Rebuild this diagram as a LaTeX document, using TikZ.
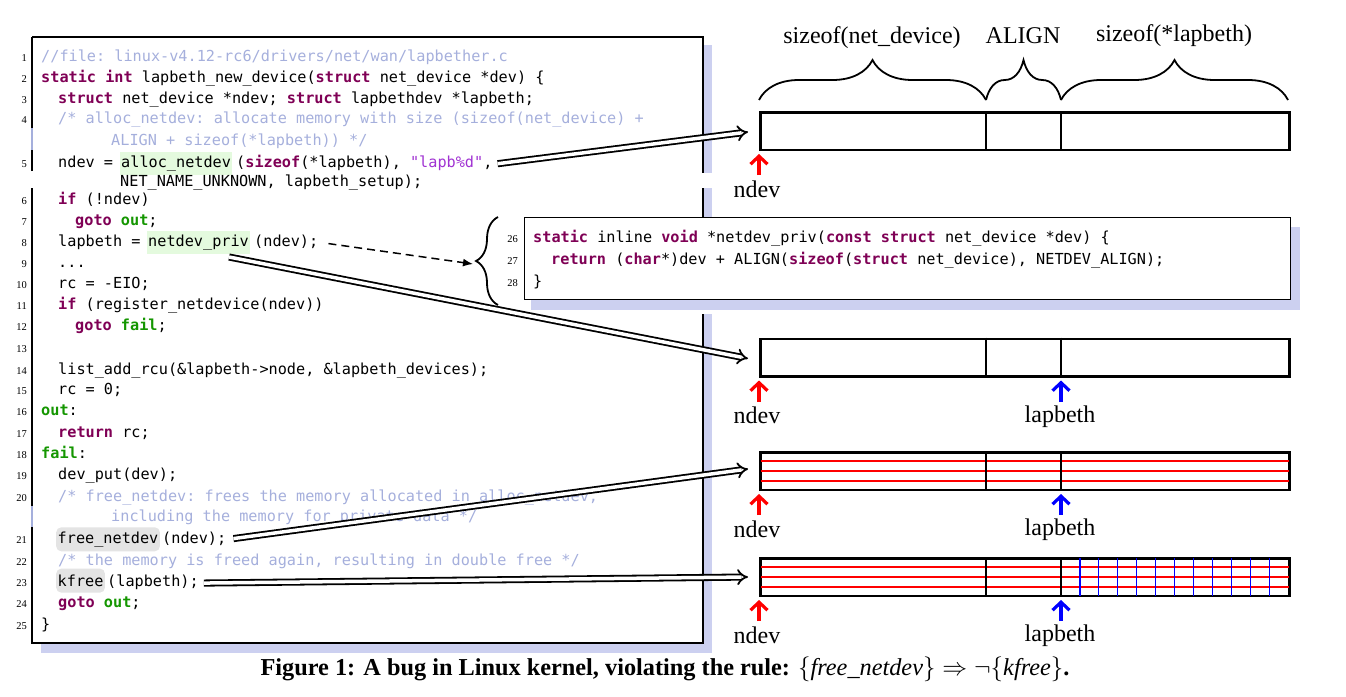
\documentclass[tikz,border=0pt]{standalone}
\usepackage{fontspec}
\setmainfont{Liberation Serif}
\setmonofont{DejaVu Sans Mono}
\usetikzlibrary{arrows.meta,decorations.pathreplacing,calc}
\definecolor{kwc}{RGB}{127,0,85}
\definecolor{lblc}{RGB}{20,150,0}
\definecolor{cmc}{RGB}{165,175,220}
\definecolor{strc}{RGB}{160,50,210}
\definecolor{hlgreen}{RGB}{228,250,222}
\definecolor{hlgray}{RGB}{228,228,228}
\definecolor{shadowc}{RGB}{204,208,240}
\newcommand{\kw}[1]{\textcolor{kwc}{\bfseries #1}}
\newcommand{\lb}[1]{\textcolor{lblc}{\bfseries #1}}
\newcommand{\cmt}[1]{\textcolor{cmc}{#1}}
\newcommand{\strg}[1]{\textcolor{strc}{#1}}
\newcommand{\codefont}{\fontsize{15.2}{18}\selectfont\ttfamily}
\begin{document}
\begin{tikzpicture}[x=1pt,y=-1pt,
  code/.style={font=\codefont, inner sep=0pt, anchor=mid west, yshift=-3pt},
  hlg/.style={code, fill=hlgreen, inner xsep=1pt, inner ysep=0pt, minimum height=23pt},
  hlr/.style={code, fill=hlgray, rounded corners=5pt, inner xsep=1.5pt, inner ysep=0pt, minimum height=24pt},
  lnum/.style={font=\fontsize{10.5}{12}\selectfont, inner sep=0pt, anchor=mid east, yshift=-3pt},
  bar/.style={draw, line width=2.5pt, inner sep=0pt, minimum width=529pt, minimum height=37.5pt, anchor=north west},
  lbl/.style={font=\fontsize{24}{28}\selectfont, inner sep=0pt, anchor=base},
  dbl/.style={double, double distance=3.5pt, line width=1.8pt, -{Implies[scale=1.4]}},
  redarr/.style={draw=red, line width=3.2pt, -{Straight Barb[length=8pt,width=17pt]}},
  bluearr/.style={draw=blue, line width=3.2pt, -{Straight Barb[length=8pt,width=17pt]}},
  brc/.style={decorate, line width=1.8pt}
]
\useasboundingbox (0,0) rectangle (1346,696);
% ---------- code box ----------
\fill[shadowc] (703,45) rectangle (712,653);
\fill[shadowc] (41,643) rectangle (712,653);
\fill[white] (703,173) rectangle (712,188);
\draw[line width=1.3pt] (32,37) -- (703,37) -- (703,173);
\draw[line width=1.3pt] (703,188) -- (703,643) -- (32,643) -- (32,527);
\draw[line width=1.3pt] (32,506) -- (32,188);
\draw[line width=1.3pt] (32,171) -- (32,150);
\draw[line width=1.3pt] (32,128) -- (32,37);
\draw[line width=1.3pt, cmc] (32,128) -- (32,150);
\draw[line width=1.3pt, cmc] (32,506) -- (32,527);
% line numbers
\foreach \n/\yy in {1/56,2/77,3/98,4/118,5/162,6/199,7/220,8/241,9/262,10/283,11/304,12/325,13/347,14/369,15/389,16/410,17/432,18/453,19/474,20/496,21/538,22/560,23/581,24/602,25/624}
  \node[lnum] (n\n) at (27,\yy) {\n};
% code lines
\node[code] (l1) at (41,56) {\cmt{//file: linux-v4.12-rc6/drivers/net/wan/lapbether.c}};
\node[code] (l2) at (41,77) {\kw{static} \kw{int} lapbeth\_new\_device(\kw{struct} net\_device *dev) \{};
\node[code] (l3) at (58,98) {\kw{struct} net\_device *ndev; \kw{struct} lapbethdev *lapbeth;};
\node[code] (l4) at (58,118) {\cmt{/* alloc\_netdev: allocate memory with size (sizeof(net\_device) +}};
\node[code] (l4c) at (111,140) {\cmt{ALIGN + sizeof(*lapbeth)) */}};
\node[code] (l5a) at (58,162) {ndev =};
\node[hlg] (an) at (120,162) {alloc\_netdev};
\node[code] (l5b) at (236,162) {(\kw{sizeof}(*lapbeth), \strg{"lapb\%d"},};
\node[code] (l5c) at (120,181) {NET\_NAME\_UNKNOWN, lapbeth\_setup);};
\node[code] (l6) at (58,199) {\kw{if} (!ndev)};
\node[code] (l7) at (75,220) {\kw{goto} \lb{out};};
\node[code] (l8a) at (58,241) {lapbeth =};
\node[hlg] (np) at (147,241) {netdev\_priv};
\node[code] (l8b) at (254,241) {(ndev);};
\node[code] (l9) at (58,262) {...};
\node[code] (l10) at (58,283) {rc = -EIO;};
\node[code] (l11) at (58,304) {\kw{if} (register\_netdevice(ndev))};
\node[code] (l12) at (75,325) {\kw{goto} \lb{fail};};
\node[code] (l14) at (58,369) {list\_add\_rcu(\&lapbeth->node, \&lapbeth\_devices);};
\node[code] (l15) at (58,389) {rc = 0;};
\node[code] (l16) at (41,410) {\lb{out}:};
\node[code] (l17) at (58,432) {\kw{return} rc;};
\node[code] (l18) at (41,453) {\lb{fail}:};
\node[code] (l19) at (58,474) {dev\_put(dev);};
\node[code] (l20) at (58,496) {\cmt{/* free\_netdev: frees the memory allocated in alloc\_netdev,}};
\node[code] (l20c) at (111,516) {\cmt{including the memory for private data */}};
\node[hlr] (fn) at (56,538) {free\_netdev};
\node[code] (l21b) at (162,538) {(ndev);};
\node[code] (l22) at (58,560) {\cmt{/* the memory is freed again, resulting in double free */}};
\node[hlr] (kf) at (56,581) {kfree};
\node[code] (l23b) at (107,581) {(lapbeth);};
\node[code] (l24) at (58,602) {\kw{goto} \lb{out};};
\node[code] (l25) at (41,624) {\}};
% ---------- netdev_priv box ----------
\fill[white] (515,217) rectangle (712,314);
\fill[shadowc] (1290,227) rectangle (1300,310);
\fill[shadowc] (531,299) rectangle (1300,310);
\node[draw, line width=1.3pt, fill=white, inner sep=0pt, minimum width=766pt, minimum height=82pt, anchor=north west] (npbox) at (524,217) {};
\foreach \n/\yy in {26/237,27/259,28/281}
  \node[lnum] (n\n) at (518,\yy) {\n};
\node[code] (p26) at (533,237) {\kw{static} inline \kw{void} *netdev\_priv(\kw{const} \kw{struct} net\_device *dev) \{};
\node[code] (p27) at (551,259) {\kw{return} (\kw{char}*)dev + ALIGN(\kw{sizeof}(\kw{struct} net\_device), NETDEV\_ALIGN);};
\node[code] (p28) at (533,281) {\}};
\draw[brc, decoration={brace, amplitude=22pt}] (498,305) -- (498,217);
\coordinate (btip) at (476,261);
% ---------- memory bars ----------
\node[bar] (bar1) at (759,111) {};
\node[bar] (bar2) at (759,337.5) {};
\node[bar] (bar3) at (759,451) {};
\node[bar] (bar4) at (759,557) {};
% red (freed) lines
\foreach \b in {bar3,bar4}
  \foreach \f in {0.25,0.5,0.75}
    \draw[red, line width=1.2pt] ($(\b.north west)!\f!(\b.south west)+(1.5,0)$) -- ($(\b.north east)!\f!(\b.south east)+(-1.5,0)$);
\foreach \k in {1,...,11}
  \draw[blue, line width=1.2pt] ($(bar4.north west)+(302+\k*18.917,1)$) -- ($(bar4.south west)+(302+\k*18.917,-1)$);
% dividers
\foreach \b in {bar1,bar2,bar3,bar4}{
  \draw[line width=2.5pt] ($(\b.north west)+(227,0)$) -- ($(\b.south west)+(227,0)$);
  \draw[line width=2.5pt] ($(\b.north west)+(302,0)$) -- ($(\b.south west)+(302,0)$);
}
% braces and size labels
\draw[brc, decoration={brace, amplitude=40pt}] (759,100) -- (986,100);
\draw[brc, decoration={brace, amplitude=40pt}] (986,100) -- (1061,100);
\draw[brc, decoration={brace, amplitude=40pt}] (1061,100) -- (1288,100);
\node[lbl] (s1) at (872,43) {sizeof(net\_device)};
\node[lbl] (s2) at (1023,43) {ALIGN};
\node[lbl] (s3) at (1174,41) {sizeof(*lapbeth)};
% pointers
\foreach \b/\i in {bar1/1,bar2/2,bar3/3,bar4/4}{
  \draw[redarr] ($(\b.south west)+(0,24)$) -- ($(\b.south west)+(0,3)$);
  \node[lbl] (nd\i) at ($(\b.south west)+(-2,46)$) {ndev};
}
\foreach \b/\i in {bar2/2,bar3/3,bar4/4}{
  \draw[bluearr] ($(\b.south west)+(302,24)$) -- ($(\b.south west)+(302,3)$);
  \node[lbl] (lp\i) at ($(\b.south west)+(301,44.5)$) {lapbeth};
}
% ---------- connectors ----------
\draw[dbl] ($(l5b.east)+(5,1)$) -- ($(bar1.west)+(-11,1)$);
\draw[dbl] ($(np.south east)+(-21,3)$) -- ($(bar2.west)+(-11,1)$);
\draw[dbl] ($(l21b.east)+(7,0)$) -- ($(bar3.west)+(-11,-2)$);
\draw[dbl] ($(l23b.east)+(5,1)$) -- ($(bar4.west)+(-11,0)$);
\draw[line width=1.5pt, dash pattern=on 8pt off 5pt, -{Latex[length=10pt,width=8pt]}] ($(l8b.east)+(10,2)$) -- ($(btip)+(-3,3)$);
% ---------- caption ----------
\node[font=\fontsize{24.3}{27}\selectfont, inner sep=0pt, anchor=base] (cap) at (665,675)
  {\textbf{Figure 1: A bug in Linux kernel, violating the rule: }$\{\textit{free\_netdev}\}\Rightarrow\neg\{\textit{kfree}\}$\textbf{.}};
\end{tikzpicture}
\end{document}
